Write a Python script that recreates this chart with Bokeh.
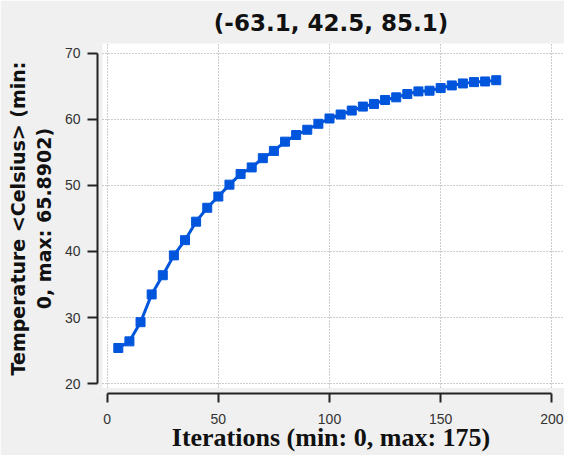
from bokeh.plotting import figure
from bokeh.models import Range1d, BoxAnnotation, FixedTicker, ColumnDataSource
from bokeh.embed import file_html
from bokeh.resources import INLINE

iterations = [5, 10, 15, 20, 25, 30, 35, 40, 45, 50, 55, 60, 65, 70, 75, 80, 85, 90,
              95, 100, 105, 110, 115, 120, 125, 130, 135, 140, 145, 150, 155, 160,
              165, 170, 175]
temperature = [25.4, 26.4, 29.3, 33.5, 36.4, 39.4, 41.7, 44.5, 46.6, 48.3, 50.1, 51.7,
               52.7, 54.1, 55.2, 56.6, 57.6, 58.4, 59.3, 60.1, 60.7, 61.3, 61.9, 62.3,
               62.9, 63.3, 63.8, 64.2, 64.3, 64.7, 65.1, 65.4, 65.6, 65.7, 65.89]
x_ticks = [0, 50, 100, 150, 200]
y_ticks = [20, 30, 40, 50, 60, 70]
title_text = "(-63.1, 42.5, 85.1)"
x_label = "Iterations (min: 0, max: 175)"
y_label = "Temperature <Celsius> (min:\n0, max: 65.8902)"

BG = "#f0f0f0"
BLUE = "#0055dd"

src = ColumnDataSource(data=dict(x=iterations, y=temperature))

p = figure(width=564, height=455, output_backend="svg", toolbar_location=None,
           x_range=Range1d(-4.36, 205.7), y_range=Range1d(18.516, 71.44),
           min_border_left=97, min_border_right=0, min_border_top=43,
           min_border_bottom=62, background_fill_color=BG, border_fill_color=BG,
           outline_line_color=None, title=title_text)

white = BoxAnnotation(left=-2.1, right=205.7, bottom=19.35, top=71.44,
                      fill_color="white", fill_alpha=1.0, line_alpha=0, level="image")
p.add_layout(white)

p.line("x", "y", source=src, line_color=BLUE, line_width=3)
p.scatter("x", "y", source=src, marker="square", size=9, fill_color=BLUE,
          line_color=BLUE)

# title
p.title.align = "center"
p.title.text_font = "DejaVu Sans"
p.title.text_font_size = "23px"
p.title.text_font_style = "bold"
p.title.text_color = "#111111"
p.title.standoff = 15

# axes
for ax, ticks, bnds in ((p.xaxis[0], x_ticks, (0, 200)), (p.yaxis[0], y_ticks, (20, 70))):
    ax.ticker = FixedTicker(ticks=ticks)
    ax.bounds = bnds
    ax.axis_line_color = "#222222"
    ax.axis_line_width = 2
    ax.major_tick_line_color = "#222222"
    ax.major_tick_line_width = 2
    ax.major_tick_in = 0
    ax.minor_tick_line_color = None
    ax.major_label_text_font = "Liberation Sans"
    ax.major_label_text_font_size = "14px"
    ax.major_label_text_color = "#333333"

p.xaxis.major_tick_out = 9
p.yaxis.major_tick_out = 10
p.xaxis.major_label_standoff = 11
p.yaxis.major_label_standoff = 7

p.xaxis.axis_label = x_label
p.xaxis.axis_label_text_font = "Liberation Serif"
p.xaxis.axis_label_text_font_size = "26px"
p.xaxis.axis_label_text_font_style = "bold"
p.xaxis.axis_label_text_color = "#111111"
p.xaxis.axis_label_standoff = -4

p.yaxis.axis_label = y_label
p.yaxis.axis_label_text_font = "DejaVu Sans"
p.yaxis.axis_label_text_font_size = "19px"
p.yaxis.axis_label_text_font_style = "bold"
p.yaxis.axis_label_text_color = "#111111"
p.yaxis.axis_label_standoff = 7

# grid
p.xgrid.ticker = FixedTicker(ticks=x_ticks)
p.ygrid.ticker = FixedTicker(ticks=y_ticks)
for g in (p.xgrid[0], p.ygrid[0]):
    g.grid_line_color = "#9a9a9a"
    g.grid_line_dash = "1 2"
    g.grid_line_width = 1
p.xgrid.cross_bounds = (19.35, 71.44)
p.ygrid.cross_bounds = (-2.1, 205.7)

open("out.html", "w").write(file_html(p, INLINE))
